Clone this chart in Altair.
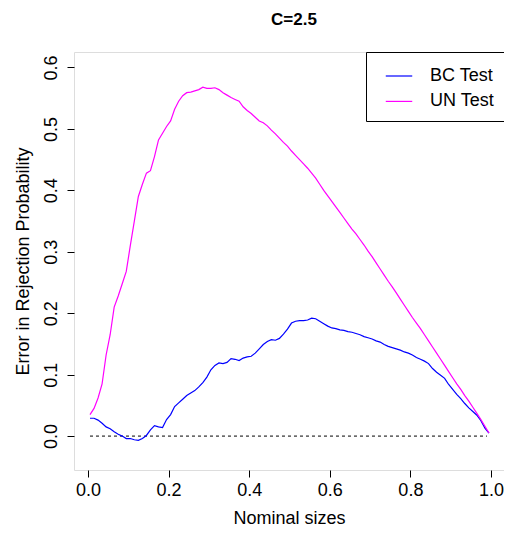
import altair as alt
import pandas as pd

nominal = [round(0.005 + 0.01 * i, 3) for i in range(100)]

un_test = [
    0.035, 0.045, 0.062, 0.085, 0.132, 0.165, 0.210, 0.228, 0.248, 0.268,
    0.310, 0.350, 0.390, 0.410, 0.428, 0.432, 0.455, 0.482, 0.493, 0.504,
    0.513, 0.532, 0.545, 0.554, 0.559, 0.560, 0.562, 0.564, 0.568, 0.566,
    0.566, 0.567, 0.564, 0.559, 0.555, 0.551, 0.548, 0.545, 0.536, 0.530,
    0.525, 0.519, 0.513, 0.510, 0.505, 0.498, 0.492, 0.485, 0.478, 0.472,
    0.464, 0.457, 0.450, 0.443, 0.436, 0.428, 0.420, 0.410, 0.400, 0.391,
    0.382, 0.373, 0.364, 0.355, 0.346, 0.337, 0.329, 0.320, 0.311, 0.301,
    0.292, 0.282, 0.272, 0.262, 0.252, 0.243, 0.233, 0.223, 0.213, 0.203,
    0.193, 0.184, 0.175, 0.165, 0.155, 0.145, 0.135, 0.125, 0.115, 0.105,
    0.095, 0.085, 0.076, 0.066, 0.057, 0.047, 0.037, 0.027, 0.016, 0.005,
]

bc_test = [
    0.029, 0.029, 0.026, 0.021, 0.015, 0.012, 0.007, 0.003, 0.000, -0.004,
    -0.004, -0.006, -0.007, -0.004, 0.001, 0.010, 0.017, 0.015, 0.014, 0.027,
    0.035, 0.048, 0.054, 0.060, 0.066, 0.070, 0.074, 0.080, 0.087, 0.096,
    0.108, 0.115, 0.119, 0.118, 0.120, 0.126, 0.125, 0.123, 0.127, 0.129,
    0.130, 0.135, 0.142, 0.149, 0.154, 0.157, 0.156, 0.159, 0.166, 0.174,
    0.184, 0.187, 0.188, 0.188, 0.189, 0.192, 0.191, 0.187, 0.183, 0.179,
    0.176, 0.175, 0.173, 0.172, 0.170, 0.169, 0.167, 0.165, 0.162, 0.160,
    0.158, 0.155, 0.153, 0.149, 0.146, 0.144, 0.142, 0.140, 0.137, 0.135,
    0.132, 0.128, 0.125, 0.122, 0.118, 0.110, 0.104, 0.099, 0.094, 0.084,
    0.076, 0.068, 0.061, 0.053, 0.046, 0.040, 0.034, 0.025, 0.013, 0.005,
]

series_names = ["BC Test", "UN Test"]
series_colors = ["#0000FF", "#FF00FF"]
x_ticks = [0.0, 0.2, 0.4, 0.6, 0.8, 1.0]
y_ticks = [0.0, 0.1, 0.2, 0.3, 0.4, 0.5, 0.6]

df = pd.DataFrame(
    {
        "x": nominal * 2,
        "y": bc_test + un_test,
        "series": [series_names[0]] * len(nominal) + [series_names[1]] * len(nominal),
        "order": list(range(len(nominal))) * 2,
    }
)
zero_df = pd.DataFrame({"x": [nominal[0]], "x2": [0.99], "y": [0.0]})

FONT = "Liberation Sans"

xscale = alt.Scale(domain=[-0.0347, 1.0323], nice=False, zero=False)
yscale = alt.Scale(domain=[-0.0552, 0.6252], nice=False, zero=False)

x_axis = alt.Axis(
    values=x_ticks, format=".1f", title="Nominal sizes", grid=False, domain=False,
    tickSize=7, tickColor="black", labelColor="black", labelFontSize=18,
    labelFont=FONT, labelPadding=4, labelFlush=False, labelOverlap=False,
    titleFont=FONT, titleFontSize=18, titleFontWeight="normal", titleColor="black",
    titleBaseline="alphabetic", titleY=53,
)
y_axis = alt.Axis(
    values=y_ticks, format=".1f", title="Error in Rejection Probability", grid=False,
    domain=False, tickSize=7, tickColor="black", labelColor="black", labelFontSize=18,
    labelFont=FONT, labelAngle=270, labelAlign="center", labelBaseline="alphabetic",
    labelPadding=11, labelFlush=False, labelOverlap=False,
    titleFont=FONT, titleFontSize=18, titleFontWeight="normal", titleColor="black",
    titleAngle=270, titleBaseline="alphabetic", titleAlign="center", titleX=-46, titleY=209,
)

lines = alt.Chart(df).mark_line(strokeWidth=1.2).encode(
    x=alt.X("x:Q", scale=xscale, axis=x_axis),
    y=alt.Y("y:Q", scale=yscale, axis=y_axis),
    color=alt.Color(
        "series:N",
        scale=alt.Scale(domain=series_names, range=series_colors),
        legend=alt.Legend(
            title=None, orient="none", legendX=292, legendY=0,
            symbolType="stroke", symbolSize=700, symbolStrokeWidth=1.2,
            labelFontSize=18, labelFont=FONT, labelColor="black",
            labelOffset=17, symbolOffset=9, padding=10, rowPadding=2.4,
            strokeColor="black", fillColor="white", cornerRadius=0,
        ),
    ),
    order="order:Q",
)

zero = alt.Chart(zero_df).mark_rule(color="black", strokeWidth=1, strokeDash=[3, 3]).encode(
    x=alt.X("x:Q", scale=xscale),
    x2="x2:Q",
    y=alt.Y("y:Q", scale=yscale),
)

chart = (
    alt.layer(zero, lines)
    .properties(
        width=430,
        height=418,
        title=alt.TitleParams(
            "C=2.5", fontSize=17, font=FONT, fontWeight="bold", color="black",
            anchor="middle", baseline="alphabetic", offset=10, dx=5,
        ),
        autosize=alt.AutoSizeParams(type="none"),
        padding={"left": 66, "top": 44, "right": 0, "bottom": 58},
    )
    .configure_view(stroke="black", strokeWidth=1)
    .configure(background="white")
)

chart.save("out.html", embed_options={"renderer": "svg", "actions": False})
